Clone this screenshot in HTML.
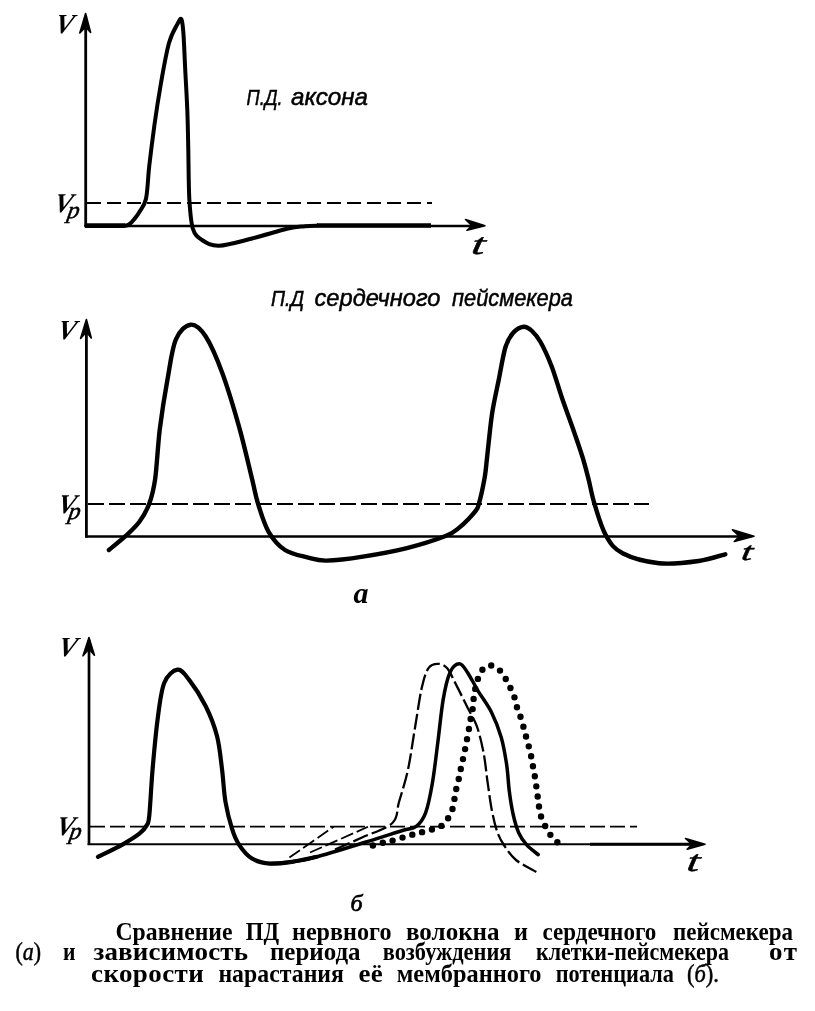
<!DOCTYPE html>
<html lang="ru"><head><meta charset="utf-8"><title>ПД</title>
<style>
html,body{margin:0;padding:0;background:#fff;}
body{width:815px;height:1011px;overflow:hidden;position:relative;font-family:"Liberation Serif",serif;color:#000;}
svg{position:absolute;left:0;top:0;display:block}
</style></head><body>
<svg width="815" height="1011" viewBox="0 0 815 1011">
<g fill="none" stroke="#000" stroke-linecap="butt" stroke-linejoin="round">
<!-- panel 1 axes -->
<path d="M85.7 16V226.5" stroke-width="2.8"/>
<path d="M79.8 33L85.6 13.5L90.6 32.5L85.7 27Z" stroke-width="1.6" fill="#000"/>
<path d="M84.3 225.9H480" stroke-width="2.5"/>
<path d="M465.5 219.5L485 225.8L467 230.3L472 225.8Z" stroke-width="1.6" fill="#000"/>
<path d="M87 203H432" stroke-width="1.8" stroke-dasharray="14 6"/>
<path d="M85 225.6H125" stroke-width="4.6"/>
<path d="M317 225.5H431" stroke-width="4.6"/>
<path d="M124.0 225.8 C124.8 225.6 127.3 225.6 129.0 224.5 C130.7 223.4 132.3 221.6 134.0 219.5 C135.7 217.4 137.4 215.5 139.4 212.0 C141.4 208.5 144.3 206.4 146.0 198.7 C147.7 191.0 147.9 177.7 149.3 165.6 C150.7 153.5 152.4 139.8 154.3 126.0 C156.2 112.2 158.6 96.8 161.0 83.0 C163.4 69.2 166.2 53.0 169.0 43.0 C171.8 33.0 175.9 26.9 178.0 23.0 C180.1 19.1 180.6 17.8 181.5 19.5 C182.4 21.2 182.7 23.8 183.4 33.0 C184.1 42.2 184.8 62.2 185.5 75.0 C186.2 87.8 186.8 97.5 187.3 110.0 C187.8 122.5 188.0 135.2 188.3 150.0 C188.6 164.8 188.6 185.6 189.3 198.7 C190.1 211.8 190.7 221.6 192.8 228.5 C194.9 235.4 197.6 237.1 202.0 240.0 C206.4 242.9 210.7 245.9 219.0 245.7 C227.3 245.4 240.5 241.4 252.0 238.5 C263.5 235.6 279.2 230.5 288.0 228.5 C296.8 226.5 300.0 226.8 305.0 226.3 C310.0 225.8 315.8 225.7 318.0 225.6" stroke-width="4.0"/>
<!-- panel 2 axes -->
<path d="M86.4 322V537.6" stroke-width="2.8"/>
<path d="M80.6 338.5L86.4 319.5L91.3 338L86.4 332Z" stroke-width="1.6" fill="#000"/>
<path d="M85 536.4H749" stroke-width="2.5"/>
<path d="M732.5 529.8L754 536.3L734.3 541.5L739.5 536.3Z" stroke-width="1.6" fill="#000"/>
<path d="M88 504H649" stroke-width="1.8" stroke-dasharray="16 5"/>
<path d="M108.9 550.0 C111.8 547.6 120.9 540.4 126.0 535.7 C131.1 531.0 135.5 527.1 139.4 521.8 C143.3 516.4 146.7 510.8 149.3 503.6 C151.9 496.4 153.4 491.1 155.2 478.7 C156.9 466.3 157.8 445.6 159.8 429.0 C161.9 412.4 164.8 394.3 167.5 379.4 C170.2 364.5 171.9 348.7 175.8 339.6 C179.7 330.5 185.7 325.2 190.7 324.7 C195.7 324.1 200.3 328.3 205.6 336.3 C210.8 344.3 216.7 357.9 222.2 372.8 C227.7 387.7 233.8 408.2 238.8 425.8 C243.8 443.4 248.8 465.7 252.0 478.7 C255.2 491.7 255.2 494.8 258.0 503.6 C260.8 512.5 264.1 524.1 268.6 531.8 C273.1 539.5 278.4 545.7 285.0 550.0 C291.6 554.3 301.4 555.8 308.3 557.6 C315.2 559.4 317.3 560.8 326.4 560.6 C335.5 560.4 349.6 558.7 362.8 556.6 C376.1 554.5 392.1 551.7 405.9 548.3 C419.7 544.9 436.6 539.5 445.6 536.0 C454.6 532.5 456.1 529.9 460.0 527.0 C463.9 524.1 466.2 521.4 469.0 518.5 C471.8 515.6 474.9 512.1 476.6 509.6 C478.3 507.1 478.1 506.5 479.0 503.3 C479.9 500.1 481.1 495.4 482.1 490.7 C483.1 486.0 484.3 480.2 485.1 474.9 C485.9 469.6 486.3 464.3 486.9 459.0 C487.5 453.7 487.7 451.1 488.6 443.2 C489.5 435.3 490.7 422.1 492.4 411.6 C494.1 401.1 496.5 390.8 498.7 380.0 C500.9 369.2 503.1 354.8 505.5 347.0 C507.9 339.2 510.0 336.4 513.0 333.0 C516.0 329.6 520.4 327.0 523.6 326.7 C526.8 326.4 529.2 328.4 532.0 331.0 C534.8 333.6 537.2 336.2 540.5 342.0 C543.8 347.8 547.9 356.7 551.5 366.0 C555.1 375.3 558.5 387.7 562.0 398.0 C565.5 408.3 569.3 418.2 572.7 428.0 C576.1 437.8 579.9 448.5 582.5 457.0 C585.1 465.5 586.5 471.2 588.5 479.0 C590.5 486.8 591.5 494.2 594.4 503.6 C597.3 513.1 601.3 527.4 606.0 535.7 C610.7 544.0 613.8 548.7 622.6 553.3 C631.4 557.9 646.3 561.9 659.0 563.2 C671.7 564.5 687.8 562.5 698.8 561.0 C709.8 559.5 720.9 555.4 725.3 554.3" stroke-width="4.4" stroke-linecap="round"/>
<!-- panel 3 axes -->
<path d="M89 640V845" stroke-width="2.7"/>
<path d="M83 655.8L89 637.5L94.4 655.3L89 649Z" stroke-width="1.6" fill="#000"/>
<path d="M87.6 844.2H700" stroke-width="1.9"/>
<path d="M590 844.3H700" stroke-width="2.9"/>
<path d="M685.5 838.5L705 844.3L687.2 849.3L692 844.3Z" stroke-width="1.6" fill="#000"/>
<path d="M90 826.6H637" stroke-width="1.8" stroke-dasharray="15 5"/>
<path d="M98.0 856.9 C102.1 854.8 115.9 848.2 122.8 844.3 C129.7 840.4 135.4 836.9 139.4 833.7 C143.4 830.6 145.0 828.4 146.7 825.4 C148.3 822.4 148.3 824.9 149.3 815.5 C150.3 806.1 151.2 785.0 152.6 769.0 C154.0 753.0 155.7 733.7 157.6 719.4 C159.5 705.1 160.9 691.3 164.2 683.0 C167.5 674.7 173.4 670.3 177.5 669.7 C181.6 669.1 184.3 673.6 189.0 679.6 C193.7 685.6 200.9 696.6 205.6 706.0 C210.3 715.4 214.3 725.5 217.0 736.0 C219.7 746.5 220.6 758.0 222.0 769.0 C223.4 780.0 223.8 792.0 225.5 802.0 C227.2 812.0 229.8 821.7 232.0 828.7 C234.2 835.8 235.5 839.3 238.8 844.3 C242.1 849.3 246.8 855.3 252.0 858.5 C257.2 861.7 263.4 863.1 270.0 863.6 C276.6 864.1 284.1 862.9 291.8 861.8 C299.5 860.7 312.0 857.8 316.0 857.0" stroke-width="4.2" stroke-linecap="round"/>
<path d="M270.0 863.6 C273.6 863.3 284.1 862.9 291.8 861.8 C299.5 860.7 303.6 860.3 316.0 857.0 C328.4 853.7 351.6 846.4 366.0 842.0 C380.4 837.6 394.0 833.1 402.4 830.5 C410.8 827.9 412.3 829.2 416.2 826.3 C420.1 823.3 422.9 820.0 425.6 812.8 C428.3 805.6 430.4 794.7 432.4 783.0 C434.4 771.3 436.0 756.5 437.8 742.6 C439.6 728.7 441.2 711.1 443.2 699.4 C445.2 687.7 447.3 678.3 450.0 672.4 C452.7 666.5 456.5 663.8 459.4 663.8 C462.3 663.8 464.4 667.8 467.5 672.4 C470.6 677.0 474.2 684.5 478.3 691.3 C482.4 698.0 488.0 705.2 491.8 712.9 C495.6 720.5 498.7 728.7 501.2 737.2 C503.7 745.8 505.2 755.2 506.6 764.2 C508.0 773.2 508.2 782.7 509.3 791.2 C510.4 799.8 511.8 808.5 513.4 815.5 C515.0 822.5 516.5 828.0 518.8 833.0 C521.0 838.0 523.7 841.6 526.9 845.2 C530.1 848.8 536.3 853.0 538.2 854.6" stroke-width="3.5" stroke-linecap="round"/>
<path d="M335.0 849.5 C339.5 847.5 352.4 841.9 362.0 837.5 C371.6 833.1 386.2 828.9 392.4 823.0 C398.6 817.1 396.4 810.9 399.0 802.0 C401.6 793.1 405.4 781.8 408.0 769.6 C410.6 757.4 412.5 742.5 414.8 729.0 C417.1 715.5 419.4 698.7 421.6 688.6 C423.9 678.5 425.6 672.4 428.3 668.3 C431.0 664.2 434.7 663.8 437.8 663.8 C440.9 663.8 444.1 664.6 447.2 668.3 C450.3 672.0 453.3 679.4 456.7 685.9 C460.1 692.4 464.1 700.8 467.5 707.5 C470.9 714.2 474.2 718.8 476.9 726.4 C479.6 734.0 481.9 744.0 483.7 753.4 C485.5 762.8 486.3 773.6 487.7 783.0 C489.1 792.4 490.2 801.9 491.8 810.0 C493.4 818.1 495.2 825.9 497.2 831.7 C499.2 837.5 500.8 840.3 503.9 845.0 C507.0 849.7 510.6 855.5 516.0 860.0 C521.4 864.5 532.9 870.0 536.3 872.0" stroke-width="2.3" stroke-dasharray="16 4"/>
<path d="M289.4 857.5 C296.8 852.4 326.2 831.9 333.6 826.8" stroke-width="1.8" stroke-dasharray="13 4"/>
<path d="M310.0 852.5 C319.7 848.2 358.3 831.1 368.0 826.8" stroke-width="1.8" stroke-dasharray="13 4"/>
<path d="M372.9 845.5 C374.8 845.0 380.2 843.5 384.0 842.5 C387.8 841.5 391.7 840.9 395.8 839.8 C399.9 838.7 404.5 836.8 408.4 835.7 C412.2 834.6 415.3 834.0 418.9 833.0 C422.5 832.0 426.4 831.1 430.0 830.0 C433.6 828.9 437.5 828.4 440.5 826.5 C443.5 824.6 446.0 821.4 448.0 818.4 C450.0 815.4 451.5 812.3 452.6 808.7 C453.7 805.1 454.1 800.6 454.8 797.0 C455.5 793.4 455.9 790.5 456.7 787.0 C457.5 783.5 458.6 779.9 459.4 776.3 C460.2 772.7 460.7 769.1 461.5 765.5 C462.3 761.9 463.2 758.3 464.0 754.7 C464.8 751.1 465.3 747.6 466.0 744.0 C466.7 740.4 467.6 736.7 468.3 733.0 C469.0 729.3 469.3 725.6 470.0 722.0 C470.7 718.4 471.7 715.0 472.3 711.5 C472.9 708.0 472.9 704.3 473.4 700.7 C473.8 697.1 474.2 693.8 475.0 690.0 C475.8 686.2 476.9 681.4 478.3 677.8 C479.8 674.2 481.4 670.3 483.7 668.3 C485.9 666.3 489.0 665.1 491.8 665.6 C494.6 666.1 498.1 668.8 500.4 671.0 C502.7 673.2 504.1 676.1 505.8 679.0 C507.5 681.9 509.2 685.4 510.7 688.6 C512.2 691.8 513.6 694.6 514.7 698.0 C515.8 701.4 516.3 705.2 517.4 708.8 C518.5 712.4 520.3 715.8 521.5 719.6 C522.7 723.4 523.7 728.0 524.7 731.8 C525.7 735.6 526.8 739.1 527.7 742.6 C528.7 746.1 529.6 749.4 530.4 752.8 C531.2 756.2 531.7 759.5 532.3 762.8 C532.9 766.1 533.6 769.5 534.2 772.8 C534.8 776.1 535.3 779.2 535.8 782.5 C536.3 785.8 536.6 789.2 537.1 792.5 C537.6 795.8 538.0 798.8 538.5 802.0 C539.0 805.2 539.0 808.8 539.8 812.0 C540.5 815.2 541.6 818.2 543.0 821.4 C544.4 824.6 546.3 828.2 548.0 831.0 C549.7 833.8 551.1 836.3 553.0 838.4 C554.9 840.5 558.2 842.9 559.3 843.8" stroke-width="6.4" stroke-linecap="round" stroke-dasharray="0 10.2"/>
</g>
<g fill="#000" font-family="'Liberation Serif',serif" font-style="italic" font-weight="bold">
<text transform="translate(53.8 33) skewX(-12)" font-size="27.5">V</text>
<text transform="translate(53.0 212.0) skewX(-12)" font-size="27">V</text>
<text transform="translate(66.5 217.5) skewX(-10)" font-size="24" font-weight="normal" stroke="#000" stroke-width="0.5">p</text>
<text transform="translate(470.5 253.5) scale(1.6 1) skewX(-6)" font-size="30" font-weight="normal" stroke="#000" stroke-width="0.5">t</text>
<text transform="translate(56.2 339.2) skewX(-12)" font-size="27.5">V</text>
<text transform="translate(56.5 513.0) skewX(-12)" font-size="27">V</text>
<text transform="translate(67.5 518.5) skewX(-10)" font-size="24" font-weight="normal" stroke="#000" stroke-width="0.5">p</text>
<text transform="translate(740.5 559.5) scale(1.55 1) skewX(-6)" font-size="26" font-weight="normal" stroke="#000" stroke-width="0.5">t</text>
<text x="353.5" y="603" font-size="30">а</text>
<text transform="translate(57 655.8) skewX(-12)" font-size="27.5">V</text>
<text transform="translate(55.0 835.0) skewX(-12)" font-size="27">V</text>
<text transform="translate(68.5 839.0) skewX(-10)" font-size="24" font-weight="normal" stroke="#000" stroke-width="0.5">p</text>
<text transform="translate(686 871.3) scale(1.5 1) skewX(-6)" font-size="30" font-weight="normal" stroke="#000" stroke-width="0.5">t</text>
<text x="350.5" y="910.8" font-size="24" font-weight="normal" stroke="#000" stroke-width="0.7">б</text>
</g>
<g fill="#000" stroke="#000" stroke-width="0.5" font-family="'Liberation Sans',sans-serif" font-style="italic" font-size="24">
<text x="246.5" y="105" font-size="21.5" textLength="36" lengthAdjust="spacingAndGlyphs">П.Д.</text>
<text x="291" y="105" textLength="77" lengthAdjust="spacingAndGlyphs">аксона</text>
<text x="271" y="306" font-size="21.5" textLength="33" lengthAdjust="spacingAndGlyphs">П.Д</text>
<text x="314.5" y="306" textLength="126" lengthAdjust="spacingAndGlyphs">сердечного</text>
<text x="452" y="306" textLength="121" lengthAdjust="spacingAndGlyphs">пейсмекера</text>
</g>
<g fill="#000" font-weight="bold" font-family="'Liberation Serif',serif" font-size="24.5">
<text transform="translate(115.5 939.5) scale(0.968 1)" textLength="120.9" lengthAdjust="spacing">Сравнение</text>
<text transform="translate(245.8 939.5) scale(0.925 1)" textLength="35.9" lengthAdjust="spacing">ПД</text>
<text transform="translate(292 939.5) scale(0.985 1)" textLength="101.0" lengthAdjust="spacing">нервного</text>
<text transform="translate(406 939.5) scale(1.023 1)" textLength="91.5" lengthAdjust="spacing">волокна</text>
<text transform="translate(514 939.5) scale(0.988 1)" textLength="14.2" lengthAdjust="spacing">и</text>
<text transform="translate(542.5 939.5) scale(0.941 1)" textLength="121.0" lengthAdjust="spacing">сердечного</text>
<text transform="translate(673 939.5) scale(0.939 1)" textLength="127.8" lengthAdjust="spacing">пейсмекера</text>
<text transform="translate(15.5 960.2) scale(0.893 1)" textLength="28.5" lengthAdjust="spacing" font-weight="normal" stroke="#000" stroke-width="0.5">(<tspan font-style="italic">а</tspan>)</text>
<text transform="translate(63 960.2) scale(0.882 1)" textLength="14.2" lengthAdjust="spacing">и</text>
<text transform="translate(93.4 960.2) scale(1.100 1)" textLength="140.5" lengthAdjust="spacing">зависимость</text>
<text transform="translate(270 960.2) scale(1.019 1)" textLength="88.9" lengthAdjust="spacing">периода</text>
<text transform="translate(382.7 960.2) scale(0.914 1)" textLength="140.9" lengthAdjust="spacing">возбуждения</text>
<text transform="translate(536 960.2) scale(0.898 1)" textLength="215.0" lengthAdjust="spacing">клетки-пейсмекера</text>
<text transform="translate(769 960.2) scale(1.100 1)" textLength="25.5" lengthAdjust="spacing">от</text>
<text transform="translate(91 981.5) scale(1.100 1)" textLength="102.5" lengthAdjust="spacing">скорости</text>
<text transform="translate(218.4 981.5) scale(0.972 1)" textLength="129.2" lengthAdjust="spacing">нарастания</text>
<text transform="translate(358.4 981.5) scale(1.100 1)" textLength="22.1" lengthAdjust="spacing">её</text>
<text transform="translate(396.8 981.5) scale(0.994 1)" textLength="145.6" lengthAdjust="spacing">мембранного</text>
<text transform="translate(555.7 981.5) scale(0.912 1)" textLength="129.7" lengthAdjust="spacing">потенциала</text>
<text transform="translate(687 981.5) scale(0.921 1)" textLength="34.7" lengthAdjust="spacing" font-weight="normal" stroke="#000" stroke-width="0.5">(<tspan font-style="italic">б</tspan>).</text>

</g>
</svg>
</body></html>
